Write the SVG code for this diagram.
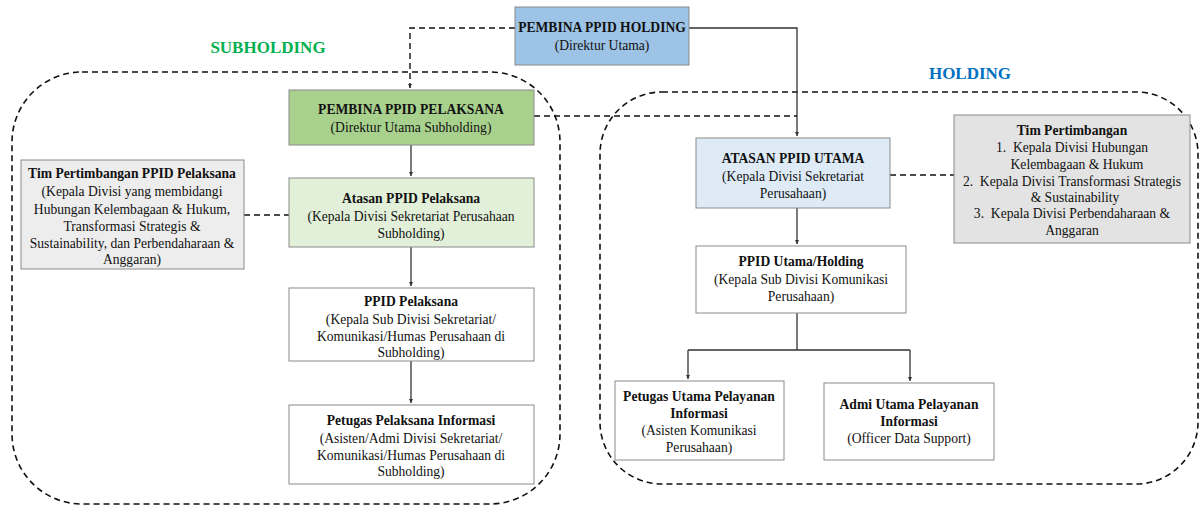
<svg xmlns="http://www.w3.org/2000/svg" width="1202" height="508" viewBox="0 0 1202 508">
<style>
text{font-family:"Liberation Serif","Times New Roman",serif;font-size:13.6px;fill:#111;text-anchor:middle}
.b{font-weight:bold}
.pre{white-space:pre}
.box{stroke:#8a8a8a;stroke-width:1}
.area{fill:none;stroke:#111;stroke-width:1.6;stroke-dasharray:6 4}
.dash{fill:none;stroke:#111;stroke-width:1.4;stroke-dasharray:6 4}
.solid{fill:none;stroke:#333;stroke-width:1.3}
</style>
<defs>
<marker id="ah" viewBox="0 0 6 6" refX="6" refY="3" markerWidth="4" markerHeight="4" orient="auto" markerUnits="userSpaceOnUse">
<path d="M0,0 L6,3 L0,6 z" fill="#333"/>
</marker>
</defs>
<rect width="1202" height="508" fill="#fff"/>

<g id="areas">
<rect class="area" x="12" y="72" width="548" height="432" rx="70"/>
<rect class="area" x="600" y="92" width="598" height="392" rx="62"/>
<text x="268" y="53" class="b" style="font-size:17px;fill:#00b050">SUBHOLDING</text>
<text x="970" y="79" class="b" style="font-size:17px;fill:#0070c0">HOLDING</text>
</g>

<g id="connectors">
<path class="dash" d="M515,28 H410 V88" marker-end="url(#ah)"/>
<path class="solid" d="M689,28 H797 V136" marker-end="url(#ah)"/>
<path class="dash" d="M534,116 H797"/>
<path class="solid" d="M411,145 V176" marker-end="url(#ah)"/>
<path class="dash" d="M244,215 H289"/>
<path class="solid" d="M411,247 V286" marker-end="url(#ah)"/>
<path class="solid" d="M411,361 V403" marker-end="url(#ah)"/>
<path class="dash" d="M890,175 H954"/>
<path class="solid" d="M797,208 V244" marker-end="url(#ah)"/>
<path class="solid" d="M797,313 V350 M688,350 H910"/>
<path class="solid" d="M688,350 V379" marker-end="url(#ah)"/>
<path class="solid" d="M910,350 V381" marker-end="url(#ah)"/>
</g>

<g id="pembina-holding">
<rect class="box" x="515" y="7" width="174" height="58" fill="#9dc3e6"/>
<text x="602" y="32" class="b">PEMBINA PPID HOLDING</text>
<text x="602" y="50">(Direktur Utama)</text>
</g>

<g id="pembina-pelaksana">
<rect class="box" x="289" y="90" width="245" height="55" fill="#a9d18e"/>
<text x="411" y="114" class="b">PEMBINA PPID PELAKSANA</text>
<text x="411" y="132">(Direktur Utama Subholding)</text>
</g>

<g id="atasan-pelaksana">
<rect class="box" x="289" y="178" width="245" height="69" fill="#e2f0d9"/>
<text x="411" y="203" class="b">Atasan PPID Pelaksana</text>
<text x="411" y="221">(Kepala Divisi Sekretariat Perusahaan</text>
<text x="411" y="238">Subholding)</text>
</g>

<g id="tim-pelaksana">
<rect class="box" x="21" y="160" width="223" height="109" fill="#ededed"/>
<text x="132" y="178" class="b">Tim Pertimbangan PPID Pelaksana</text>
<text x="132" y="196">(Kepala Divisi yang membidangi</text>
<text x="132" y="214">Hubungan Kelembagaan &amp; Hukum,</text>
<text x="132" y="231">Transformasi Strategis &amp;</text>
<text x="132" y="248">Sustainability, dan Perbendaharaan &amp;</text>
<text x="132" y="264">Anggaran)</text>
</g>

<g id="ppid-pelaksana">
<rect class="box" x="289" y="288" width="245" height="73" fill="#fff"/>
<text x="411" y="306" class="b">PPID Pelaksana</text>
<text x="411" y="324">(Kepala Sub Divisi Sekretariat/</text>
<text x="411" y="341">Komunikasi/Humas Perusahaan di</text>
<text x="411" y="357">Subholding)</text>
</g>

<g id="petugas-pelaksana">
<rect class="box" x="289" y="405" width="245" height="79" fill="#fff"/>
<text x="411" y="425" class="b">Petugas Pelaksana Informasi</text>
<text x="411" y="443">(Asisten/Admi Divisi Sekretariat/</text>
<text x="411" y="460">Komunikasi/Humas Perusahaan di</text>
<text x="411" y="476">Subholding)</text>
</g>

<g id="atasan-utama">
<rect class="box" x="696" y="138" width="194" height="70" fill="#deebf7"/>
<text x="793" y="163" class="b">ATASAN PPID UTAMA</text>
<text x="793" y="181">(Kepala Divisi Sekretariat</text>
<text x="793" y="198">Perusahaan)</text>
</g>

<g id="tim-pertimbangan">
<rect class="box" x="954" y="115" width="236" height="128" fill="#e3e3e3"/>
<text x="1072" y="135" class="b">Tim Pertimbangan</text>
<text x="1072" y="152" class="pre">1.  Kepala Divisi Hubungan</text>
<text x="1077" y="169">Kelembagaan &amp; Hukum</text>
<text x="1072" y="186" class="pre">2.  Kepala Divisi Transformasi Strategis</text>
<text x="1075" y="202">&amp; Sustainability</text>
<text x="1072" y="218" class="pre">3.  Kepala Divisi Perbendaharaan &amp;</text>
<text x="1072" y="235">Anggaran</text>
</g>

<g id="ppid-utama">
<rect class="box" x="696" y="246" width="210" height="67" fill="#fff"/>
<text x="801" y="266" class="b">PPID Utama/Holding</text>
<text x="801" y="284">(Kepala Sub Divisi Komunikasi</text>
<text x="801" y="301">Perusahaan)</text>
</g>

<g id="petugas-utama">
<rect class="box" x="615" y="381" width="169" height="79" fill="#fff"/>
<text x="699" y="401" class="b">Petugas Utama Pelayanan</text>
<text x="699" y="418" class="b">Informasi</text>
<text x="699" y="435">(Asisten Komunikasi</text>
<text x="699" y="452">Perusahaan)</text>
</g>

<g id="admi-utama">
<rect class="box" x="824" y="383" width="170" height="77" fill="#fff"/>
<text x="909" y="409" class="b">Admi Utama Pelayanan</text>
<text x="909" y="426" class="b">Informasi</text>
<text x="909" y="443">(Officer Data Support)</text>
</g>
</svg>
